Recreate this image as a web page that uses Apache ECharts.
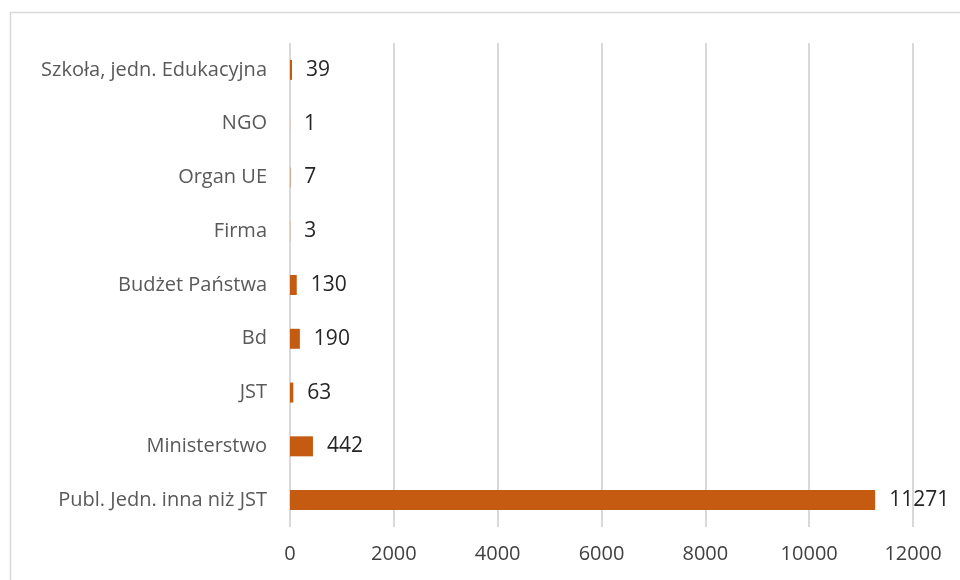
<!DOCTYPE html>
<html>
<head>
<meta charset="UTF-8">
<title>Wykres</title>
<style type="text/css">
	html, body { margin: 0; padding: 0; background: #fff; }
	#chart { width: 960px; height: 580px; }
</style>
<script type="text/javascript" src="https://cdn.jsdelivr.net/npm/echarts@6/dist/echarts.min.js"></script>
</head>
<body>
<div id="chart"></div>
<script type="text/javascript">
	// kategorie od dołu do góry (tak jak w osi kategorii ECharts)
	var categories = ['Publ. Jedn. inna niż JST', 'Ministerstwo', 'JST', 'Bd', 'Budżet Państwa', 'Firma', 'Organ UE', 'NGO', 'Szkoła, jedn. Edukacyjna'];
	var values = [11271, 442, 63, 190, 130, 3, 7, 1, 39];
	var xTicks = [0, 2000, 4000, 6000, 8000, 10000, 12000];

	var mychart = echarts.init(document.getElementById('chart'));
	var font = '"Open Sans", Lato, sans-serif';

	var option = {
		animation: false,
		graphic: [{
			type: 'rect',
			shape: { x: 10.5, y: 12.5, width: 1000, height: 1000 },
			style: { fill: 'none', stroke: '#d9d9d9', lineWidth: 1.5 },
			silent: true
		}],
		grid: { left: 290, right: 47, top: 43, bottom: 53 },
		xAxis: {
			type: 'value',
			min: xTicks[0],
			max: xTicks[xTicks.length - 1],
			interval: 2000,
			axisLine: { show: false },
			axisTick: { show: false },
			axisLabel: {
				color: '#404040', fontSize: 20, fontFamily: font, margin: 17,
				formatter: function (v) { return String(v); }
			},
			splitLine: { lineStyle: { color: '#d9d9d9', width: 2 } }
		},
		yAxis: {
			type: 'category',
			data: categories,
			axisLine: { show: false },
			axisTick: { show: false },
			axisLabel: { color: '#595959', fontSize: 20, fontFamily: font, margin: 23 }
		},
		series: [{
			type: 'bar',
			data: values,
			barWidth: 20,
			itemStyle: { color: '#c55a11' },
			label: {
				show: true,
				position: 'right',
				distance: 14,
				color: '#262626',
				fontSize: 21,
				fontFamily: font
			}
		}]
	};
	mychart.setOption(option);
</script>
</body>
</html>
